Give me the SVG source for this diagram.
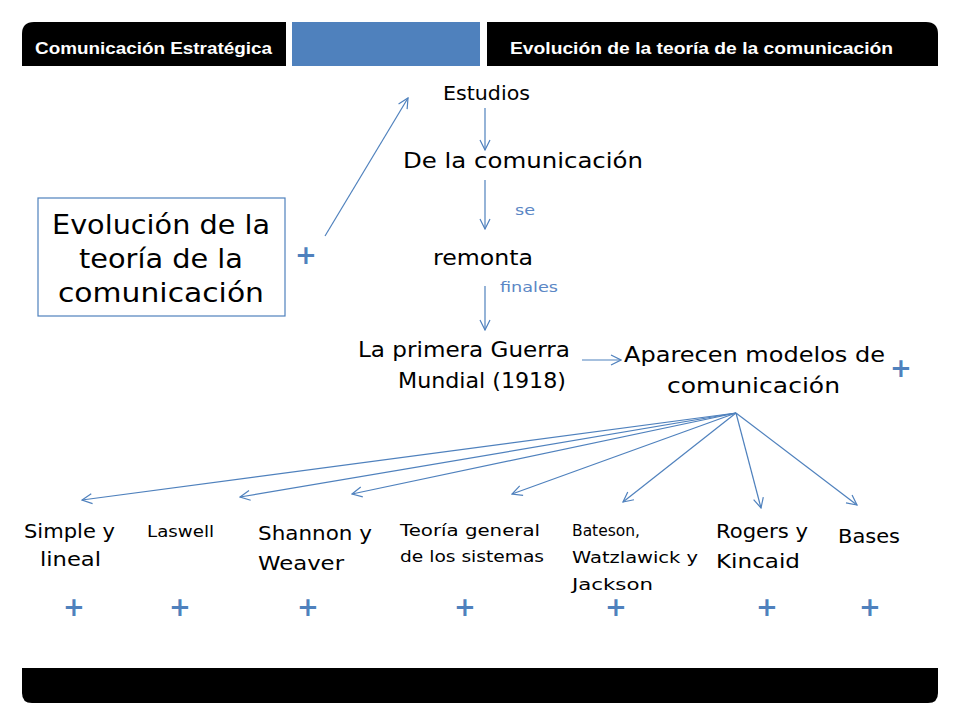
<svg xmlns="http://www.w3.org/2000/svg" width="960" height="720" viewBox="0 0 960 720">
<defs>
<marker id="ah" viewBox="0 0 12 12" refX="11" refY="6" markerWidth="12" markerHeight="12" markerUnits="userSpaceOnUse" orient="auto">
<path d="M1,1 L11,6 L1,11" fill="none" stroke="#4F81BD" stroke-width="1.2"/>
</marker>
<style>
.hd{font-family:"Liberation Sans",Arial,sans-serif;font-weight:bold;font-size:17px;fill:#fff}
.t{font-family:"DejaVu Sans","Liberation Sans",sans-serif;fill:#000}
.lb{font-family:"DejaVu Sans","Liberation Sans",sans-serif;fill:#5B87C5;font-size:14px}
.pl{font-family:"DejaVu Sans",sans-serif;fill:#4F81BD;font-size:26px;font-weight:bold;text-anchor:middle}
.c{stroke:#4F81BD;stroke-width:1.2;fill:none;marker-end:url(#ah)}
</style>
</defs>
<rect width="960" height="720" fill="#fff"/>
<g id="header">
<path d="M22,66 V34 Q22,22 34,22 H286 V66 Z" fill="#000"/>
<rect x="292" y="22" width="188" height="44" fill="#4F81BD"/>
<path d="M487,22 H926 Q938,22 938,34 V66 H487 Z" fill="#000"/>
<text class="hd" x="35" y="54" textLength="237" lengthAdjust="spacingAndGlyphs">Comunicación Estratégica</text>
<text class="hd" x="510" y="54" textLength="383" lengthAdjust="spacingAndGlyphs">Evolución de la teoría de la comunicación</text>
</g>
<g id="footer">
<path d="M22,668 H938 V693 Q938,703 928,703 H32 Q22,703 22,693 Z" fill="#000"/>
</g>
<g id="connectors">
<line class="c" x1="325" y1="236" x2="408" y2="98"/>
<line class="c" x1="485" y1="108" x2="485" y2="150"/>
<line class="c" x1="485" y1="180" x2="485" y2="229"/>
<line class="c" x1="485" y1="286" x2="485" y2="330"/>
<line class="c" x1="582" y1="360" x2="621" y2="360"/>
<line class="c" x1="736" y1="413" x2="82" y2="500"/>
<line class="c" x1="736" y1="413" x2="240" y2="497"/>
<line class="c" x1="736" y1="413" x2="352" y2="494"/>
<line class="c" x1="736" y1="413" x2="512" y2="494"/>
<line class="c" x1="736" y1="413" x2="623" y2="502"/>
<line class="c" x1="736" y1="413" x2="761" y2="508"/>
<line class="c" x1="736" y1="413" x2="857" y2="505"/>
<text class="lb" x="515" y="215" textLength="20" lengthAdjust="spacingAndGlyphs">se</text>
<text class="lb" x="500" y="292" textLength="58" lengthAdjust="spacingAndGlyphs">finales</text>
</g>
<g id="n-main">
<rect x="38" y="198" width="247" height="118" fill="#fff" stroke="#4F81BD" stroke-width="1.2"/>
<text class="t" font-size="27" x="52" y="234" textLength="218" lengthAdjust="spacingAndGlyphs">Evolución de la</text>
<text class="t" font-size="27" x="79" y="268" textLength="164" lengthAdjust="spacingAndGlyphs">teoría de la</text>
<text class="t" font-size="27" x="58" y="302" textLength="206" lengthAdjust="spacingAndGlyphs">comunicación</text>
<text class="pl" x="306" y="264">+</text>
</g>
<g id="n-estudios"><text class="t" font-size="20" x="443" y="100" textLength="87" lengthAdjust="spacingAndGlyphs">Estudios</text></g>
<g id="n-dela"><text class="t" font-size="21" x="403" y="168" textLength="240" lengthAdjust="spacingAndGlyphs">De la comunicación</text></g>
<g id="n-remonta"><text class="t" font-size="21" x="433" y="265" textLength="100" lengthAdjust="spacingAndGlyphs">remonta</text></g>
<g id="n-guerra">
<text class="t" font-size="21" x="358" y="357" textLength="212" lengthAdjust="spacingAndGlyphs">La primera Guerra</text>
<text class="t" font-size="21" x="398" y="388" textLength="168" lengthAdjust="spacingAndGlyphs">Mundial (1918)</text>
</g>
<g id="n-aparecen">
<text class="t" font-size="21" x="624" y="362" textLength="261" lengthAdjust="spacingAndGlyphs">Aparecen modelos de</text>
<text class="t" font-size="21" x="667" y="393" textLength="173" lengthAdjust="spacingAndGlyphs">comunicación</text>
<text class="pl" x="901" y="377">+</text>
</g>
<g id="n-simple">
<text class="t" font-size="20" x="24" y="538" textLength="91" lengthAdjust="spacingAndGlyphs">Simple y</text>
<text class="t" font-size="20" x="40" y="566" textLength="61" lengthAdjust="spacingAndGlyphs">lineal</text>
<text class="pl" x="74" y="616">+</text>
</g>
<g id="n-laswell">
<text class="t" font-size="16" x="147" y="537" textLength="67" lengthAdjust="spacingAndGlyphs">Laswell</text>
<text class="pl" x="180" y="616">+</text>
</g>
<g id="n-shannon">
<text class="t" font-size="20" x="258" y="540" textLength="114" lengthAdjust="spacingAndGlyphs">Shannon y</text>
<text class="t" font-size="20" x="258" y="570" textLength="86" lengthAdjust="spacingAndGlyphs">Weaver</text>
<text class="pl" x="308" y="616">+</text>
</g>
<g id="n-teoria">
<text class="t" font-size="16" x="400" y="536" textLength="140" lengthAdjust="spacingAndGlyphs">Teoría general</text>
<text class="t" font-size="16" x="400" y="562" textLength="144" lengthAdjust="spacingAndGlyphs">de los sistemas</text>
<text class="pl" x="465" y="616">+</text>
</g>
<g id="n-bateson">
<text class="t" font-size="16" x="572" y="536" textLength="68" lengthAdjust="spacingAndGlyphs">Bateson,</text>
<text class="t" font-size="16" x="572" y="563" textLength="126" lengthAdjust="spacingAndGlyphs">Watzlawick y</text>
<text class="t" font-size="16" x="572" y="590" textLength="81" lengthAdjust="spacingAndGlyphs">Jackson</text>
<text class="pl" x="616" y="616">+</text>
</g>
<g id="n-rogers">
<text class="t" font-size="20" x="716" y="538" textLength="92" lengthAdjust="spacingAndGlyphs">Rogers y</text>
<text class="t" font-size="20" x="716" y="568" textLength="84" lengthAdjust="spacingAndGlyphs">Kincaid</text>
<text class="pl" x="767" y="616">+</text>
</g>
<g id="n-bases">
<text class="t" font-size="19" x="838" y="543" textLength="62" lengthAdjust="spacingAndGlyphs">Bases</text>
<text class="pl" x="870" y="616">+</text>
</g>
</svg>
